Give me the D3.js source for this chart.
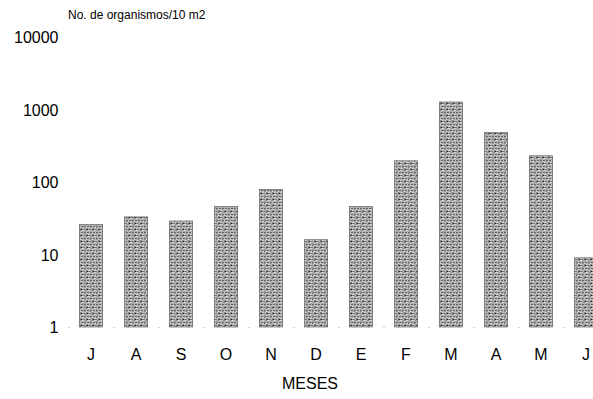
<!DOCTYPE html>
<html>
<head>
<meta charset="utf-8">
<script src="https://cdn.jsdelivr.net/npm/d3@7"></script>
<style>
  body { margin: 0; background: #fff; }
  text { font-family: Arial, "Liberation Sans", sans-serif; fill: #000; }
</style>
</head>
<body>
<svg width="593" height="399"></svg>
<script>
var months = ["J", "A", "S", "O", "N", "D", "E", "F", "M", "A", "M", "J"];
var values = [26, 33, 29, 46, 79, 16, 46, 196, 1270, 480, 230, 9];
var yTicks = [1, 10, 100, 1000, 10000];

var svg = d3.select("svg"),
    margin = {top: 37, right: 0, bottom: 72, left: 68.5},
    width = 608.5 - margin.left,
    height = 327 - margin.top;

var data = months.map(function(m, i) { return {key: i, month: m, value: values[i]}; });

var x = d3.scaleBand().domain(data.map(function(d) { return d.key; }))
    .range([0, width]).paddingInner(0.48).paddingOuter(0.24);
var y = d3.scaleLog().domain([1, 10000]).range([height, 0]);

// stipple pattern for the bars (grid of dark dots on gray)
var pat = svg.append("defs").append("pattern")
    .attr("id", "stip")
    .attr("patternUnits", "userSpaceOnUse")
    .attr("width", 6).attr("height", 6);
pat.append("rect").attr("width", 6).attr("height", 6).attr("fill", "#b8b8b8");
var dots = [[0, 0, "#111"], [1, 0, "#444"], [3, 0, "#333"], [1, 3, "#111"], [4, 3, "#222"], [4, 4, "#555"],
            [2, 1, "#f2f2f2"], [5, 4, "#f2f2f2"], [2, 5, "#ddd"], [0, 5, "#666"], [3, 2, "#888"], [5, 1, "#666"]];
dots.forEach(function(p) {
  pat.append("rect").attr("x", p[0]).attr("y", p[1]).attr("width", 1).attr("height", 1).attr("fill", p[2]);
});

var g = svg.append("g").attr("transform", "translate(" + margin.left + "," + margin.top + ")");

g.selectAll(".bar")
  .data(data)
  .enter().append("rect")
  .attr("class", "bar")
  .attr("x", function(d) { return x(d.key); })
  .attr("y", function(d) { return y(d.value); })
  .attr("width", x.bandwidth())
  .attr("height", function(d) { return height - y(d.value); })
  .attr("fill", "url(#stip)")
  .attr("stroke", "#555")
  .attr("stroke-width", 0.6);

// faint dotted baseline
g.append("line")
  .attr("x1", 0).attr("x2", width)
  .attr("y1", height + 0.5).attr("y2", height + 0.5)
  .attr("stroke", "#aaa")
  .attr("stroke-dasharray", "1,14");

var yAxis = d3.axisLeft(y).tickValues(yTicks).tickFormat(d3.format("d")).tickSize(0).tickPadding(10);
var ya = g.append("g").call(yAxis);
ya.select(".domain").remove();
ya.selectAll("text").style("font-size", "16px").attr("fill", "#000").attr("dy", "0.35em");

var xAxis = d3.axisBottom(x).tickFormat(function(k) { return months[k]; }).tickSize(0).tickPadding(22);
var xa = g.append("g").attr("transform", "translate(0," + height + ")").call(xAxis);
xa.select(".domain").remove();
xa.selectAll("text").style("font-size", "16px").attr("fill", "#000");

svg.append("text")
  .attr("x", 68).attr("y", 19)
  .style("font-size", "12px")
  .text("No. de organismos/10 m2");

svg.append("text")
  .attr("x", 310).attr("y", 389)
  .attr("text-anchor", "middle")
  .style("font-size", "16px")
  .text("MESES");
</script>
</body>
</html>
